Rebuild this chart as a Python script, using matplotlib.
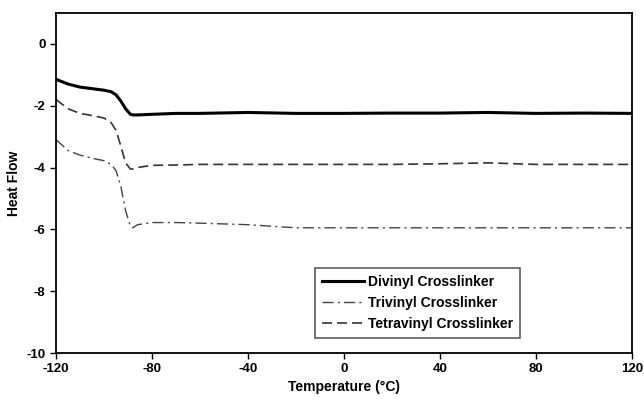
import numpy as np
import matplotlib.pyplot as plt

plt.rcParams['font.family'] = ['Liberation Sans', 'DejaVu Sans']
plt.rcParams['font.weight'] = 'bold'
plt.rcParams['axes.unicode_minus'] = False

# Temperature points (deg C)
temp = [-120, -115, -110, -105, -100, -97, -95, -93, -91, -89, -88, -86, -80, -70,
        -60, -40, -20, 0, 20, 40, 60, 80, 100, 120]

divinyl = [-1.15, -1.3, -1.4, -1.45, -1.5, -1.55, -1.65, -1.85, -2.1, -2.28, -2.3,
           -2.3, -2.28, -2.25, -2.25, -2.22, -2.25, -2.25, -2.24, -2.24, -2.22, -2.25,
           -2.24, -2.25]
trivinyl = [-3.1, -3.45, -3.6, -3.7, -3.78, -3.9, -4.1, -4.6, -5.4, -5.9, -5.95,
            -5.85, -5.78, -5.78, -5.8, -5.85, -5.95, -5.95, -5.95, -5.95, -5.95, -5.95,
            -5.95, -5.95]
tetravinyl = [-1.8, -2.1, -2.25, -2.32, -2.4, -2.55, -2.8, -3.3, -3.85, -4.05, -4.05,
              -4.0, -3.93, -3.92, -3.9, -3.9, -3.9, -3.9, -3.9, -3.88, -3.85, -3.9,
              -3.9, -3.9]

fig = plt.figure(figsize=(6.44, 4.03), dpi=100)
ax = fig.add_axes([0.087, 0.124, 0.894, 0.844])

ax.plot(temp, divinyl, '-', color='black', lw=2.2, label='Divinyl Crosslinker')
ax.plot(temp, trivinyl, color='#444444', lw=1.0, dashes=[8, 3, 1.5, 3],
        label='Trivinyl Crosslinker')
ax.plot(temp, tetravinyl, color='#333333', lw=1.2, dashes=[6, 3],
        label='Tetravinyl Crosslinker')

ax.set_xlim(-120, 120)
ax.set_ylim(-10, 1)
ax.set_xticks([-120, -80, -40, 0, 40, 80, 120])
ax.set_yticks([0, -2, -4, -6, -8, -10])
ax.tick_params(direction='out', length=4, labelsize=9.5, width=1)
for s in ax.spines.values():
    s.set_linewidth(1.3)

ax.set_xlabel('Temperature (°C)', fontsize=10, fontweight='bold', labelpad=3)
ax.set_ylabel('Heat Flow', fontsize=10, fontweight='bold', labelpad=4)

leg = ax.legend(loc='lower left', bbox_to_anchor=(0.45, 0.044), borderaxespad=0,
                fontsize=10, frameon=True, fancybox=False, edgecolor='#333333',
                handlelength=3.0, handletextpad=0.3, borderpad=0.5,
                labelspacing=0.5)
leg.get_frame().set_linewidth(1.2)

fig.savefig('out.png', dpi=100)
